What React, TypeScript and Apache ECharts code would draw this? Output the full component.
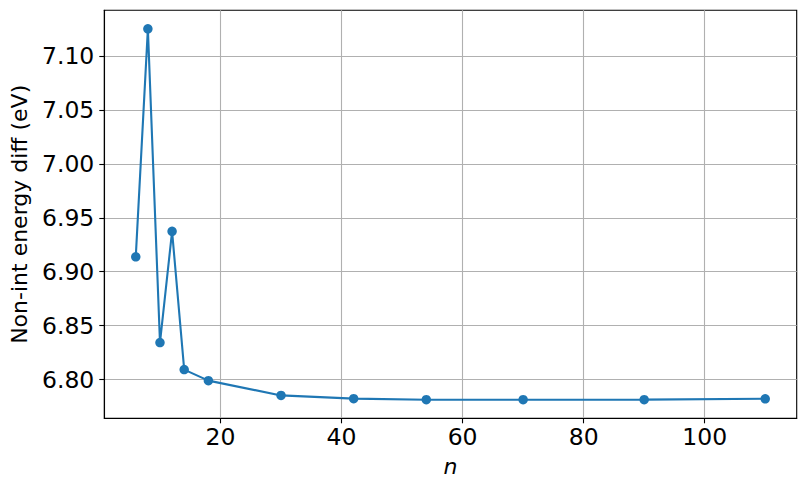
import React, { useEffect, useRef } from "react";
import * as echarts from "echarts";

const nValues = [6, 8, 10, 12, 14, 18, 30, 42, 54, 70, 90, 110];
const energyDiff = [6.9138, 7.125, 6.8344, 6.9374, 6.8093, 6.7991, 6.7854, 6.7824, 6.7814, 6.7814, 6.7815, 6.7823];
const xTicks = [20, 40, 60, 80, 100];
const yTicks = [6.8, 6.85, 6.9, 6.95, 7.0, 7.05, 7.1];
const xRange = [0.8, 115.2];
const yRange = [6.7642, 7.1422];
const xName = "n";
const yName = "Non-int energy diff (eV)";

const FONT = "DejaVu Sans";

export default function App() {
  const ref = useRef<HTMLDivElement>(null);
  useEffect(() => {
    if (!ref.current) return;
    const chart = echarts.init(ref.current, undefined, { renderer: "svg" });
    const gridLine = { show: true, lineStyle: { color: "#b0b0b0", width: 1.1 } };
    chart.setOption({
      animation: false,
      backgroundColor: "#ffffff",
      grid: {
        left: 104.3,
        right: 8.3,
        top: 10.3,
        bottom: 71.7,
        show: true,
        borderColor: "#000000",
        borderWidth: 1.1,
        backgroundColor: "transparent",
      },
      xAxis: {
        type: "value",
        min: xRange[0],
        max: xRange[1],
        name: xName,
        nameLocation: "middle",
        nameGap: 37,
        nameTextStyle: { fontFamily: FONT, fontSize: 22, fontStyle: "italic", color: "#000" },
        axisLine: { show: true, onZero: false, lineStyle: { color: "#000", width: 1.1 } },
        axisTick: { show: true, length: 5, customValues: xTicks, lineStyle: { color: "#000", width: 1.1 } },
        axisLabel: {
          customValues: xTicks,
          margin: 7,
          fontFamily: FONT,
          fontSize: 23.5,
          color: "#000",
        },
        splitLine: gridLine,
      },
      yAxis: {
        type: "value",
        min: yRange[0],
        max: yRange[1],
        name: yName,
        nameLocation: "middle",
        nameGap: 74,
        nameRotate: 90,
        nameTextStyle: { fontFamily: FONT, fontSize: 22, color: "#000" },
        axisLine: { show: true, onZero: false, lineStyle: { color: "#000", width: 1.1 } },
        axisTick: { show: true, length: 5, customValues: yTicks, lineStyle: { color: "#000", width: 1.1 } },
        axisLabel: {
          customValues: yTicks,
          margin: 10,
          fontFamily: FONT,
          fontSize: 23.5,
          color: "#000",
          formatter: (v: number) => v.toFixed(2),
        },
        splitLine: gridLine,
      },
      series: [
        {
          type: "line",
          data: nValues.map((n, i) => [n, energyDiff[i]]),
          color: "#1f77b4",
          lineStyle: { color: "#1f77b4", width: 2.1 },
          symbol: "circle",
          symbolSize: 9.5,
          showSymbol: true,
          itemStyle: { color: "#1f77b4" },
          clip: false,
          z: 3,
        },
      ],
    });
    return () => chart.dispose();
  }, []);
  return (
    <div
      ref={ref}
      style={{ position: "absolute", left: 0, top: 0, width: 805, height: 490, background: "#fff" }}
    />
  );
}
